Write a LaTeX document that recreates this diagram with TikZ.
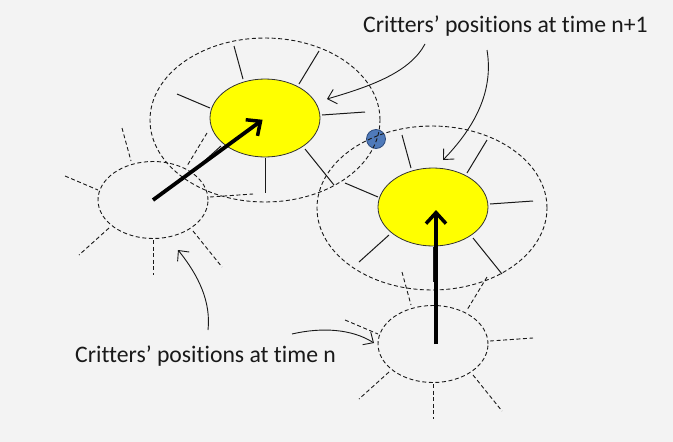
\documentclass[tikz,border=0pt]{standalone}
\usepackage{fontspec}
\setmainfont{Carlito}[Ligatures=NoCommon]
\usetikzlibrary{calc,arrows.meta,shapes.geometric}
\definecolor{bg}{RGB}{243,243,243}
\definecolor{dotblue}{RGB}{79,122,186}
\definecolor{dotedge}{RGB}{45,75,125}
\definecolor{critteryellow}{RGB}{255,255,0}
\definecolor{ink}{RGB}{25,25,25}
\newcommand\critterspokes[2]{%
  \foreach \ax/\ay/\bx/\by in {-31/-72/-22/-39, 54/-67/34/-34, 57/-3/100/-6, -88/-24/-55/-10, -44/28/-74/55, 40/31/69/67, 0/40/0/75}{%
    \draw[#2] ($(#1.center)+(\ax,\ay)$) -- ($(#1.center)+(\bx,\by)$);}}
\begin{document}
\begin{tikzpicture}[x=1pt,y=-1pt,
  dashline/.style={draw=ink, line width=0.9pt, dash pattern=on 4pt off 2.6pt},
  spokeline/.style={draw=ink, line width=1pt},
  reach/.style={ellipse, dashline, minimum width=230pt, minimum height=164pt, inner sep=0pt},
  oldpos/.style={ellipse, dashline, minimum width=110pt, minimum height=77pt, inner sep=0pt},
  newpos/.style={ellipse, draw=black!80, line width=0.8pt, fill=critteryellow, minimum width=110pt, minimum height=78pt, inner sep=0pt},
  moveline/.style={line width=3.8pt, draw=black, -{Straight Barb[length=11pt,width=20pt,line width=3.5pt]}, shorten >=3pt},
  notearrow/.style={draw=ink, line width=0.9pt, -{Straight Barb[length=8pt,width=15pt,line width=0.9pt]}},
  label/.style={font=\fontsize{23.7}{28}\selectfont, text=ink, inner sep=0pt, anchor=base west}
]
\useasboundingbox[fill=bg] (0,0) rectangle (673,442);

% blue dot (drawn below the dashed ellipses)
\node[circle, fill=dotblue, draw=dotedge, line width=0.8pt, minimum size=19pt, inner sep=0pt] (food) at (376,139) {};

% reach ellipses at time n+1
\node[reach] (r1) at (265,120) {};
\node[reach] (r2) at (432,208) {};

% positions at time n
\node[oldpos] (n1) at (153,200) {};
\node[oldpos] (n2) at (433,344) {};
\critterspokes{n1}{dashline}
\critterspokes{n2}{dashline}

% positions at time n+1
\node[newpos] (y1) at (265,118) {};
\node[newpos] (y2) at (433,207) {};
\critterspokes{y1}{spokeline}
\critterspokes{y2}{spokeline}

% movement arrows
\draw[moveline] (n1.center) -- (y1.center);
\draw[moveline] ([xshift=3pt]n2.center) -- ([xshift=3pt]y2.center);

% labels
\node[label] (top) at (363,32) {Critters’ positions at time n+1};
\node[label] (bot) at (75,362) {Critters’ positions at time n};

% annotation arrows
\coordinate (t1) at (425,44);
\coordinate (t2) at (487,50);
\coordinate (e1) at (327,99);
\coordinate (e2) at (443,160);
\coordinate (b1) at (208,330);
\coordinate (b2) at (292,334);
\coordinate (f1) at (178,250);
\coordinate (f2) at (374,343);
\draw[notearrow] (t1) .. controls (410,72) and (372,86) .. (e1);
\draw[notearrow] (t2) .. controls (494,92) and (474,128) .. (e2);
\draw[notearrow] (b1) .. controls (211,302) and (199,276) .. (f1);
\draw[notearrow] (b2) .. controls (322,327) and (352,329) .. (f2);
\end{tikzpicture}
\end{document}
